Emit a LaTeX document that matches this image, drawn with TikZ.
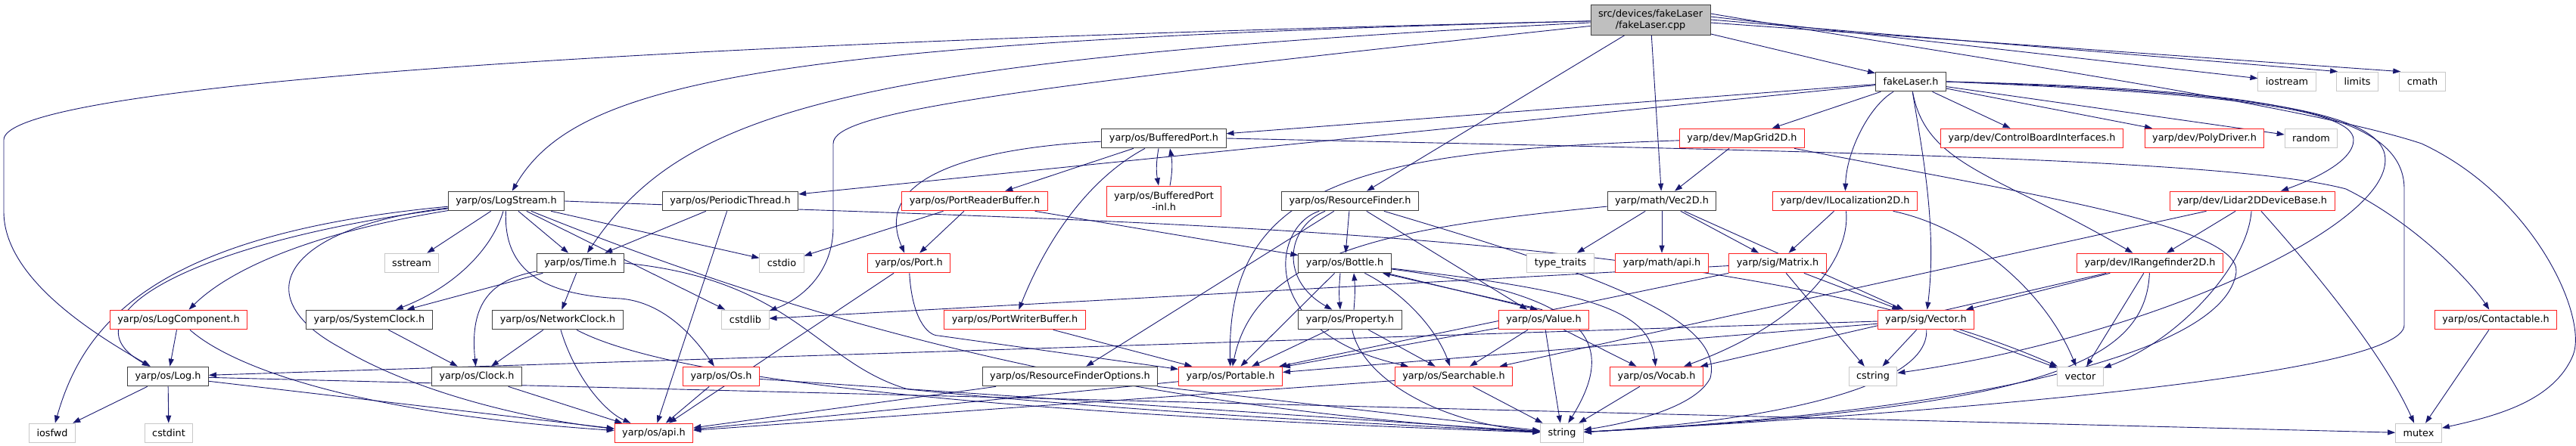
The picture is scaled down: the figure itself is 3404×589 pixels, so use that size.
\documentclass[tikz,border=0pt]{standalone}
\usepackage{fontspec}
\setmainfont{DejaVu Sans}
\usepackage{tikz}
\usetikzlibrary{arrows.meta}
\definecolor{edgeblue}{HTML}{191970}
\definecolor{boxdark}{HTML}{404040}
\definecolor{boxred}{HTML}{FF2020}
\definecolor{boxgray}{HTML}{C8C8C8}
\definecolor{rootfill}{HTML}{BFBFBF}
\pgfdeclarelayer{bg}
\pgfsetlayers{bg,main}
\tikzset{
  hdr/.style={draw,line width=1pt,fill=white,font=\fontsize{12.8}{15}\selectfont,
    inner xsep=10pt,inner ysep=2pt,minimum height=25.7pt},
  inc/.style={hdr,draw=boxdark},
  trunc/.style={hdr,draw=boxred},
  ext/.style={hdr,draw=boxgray},
  root/.style={hdr,draw=boxdark,fill=rootfill,align=center,minimum height=40pt},
  dep/.style={draw=edgeblue,line width=0.9pt,-{Triangle[length=10pt,width=7pt]}},
}

\begin{document}
\begin{tikzpicture}[x=1pt,y=-1pt]
  \useasboundingbox (0,0) rectangle (3404,589);
  % row 0 / 1
  \node[root] (cpp) at (2181,26) {src/devices/fakeLaser\\/fakeLaser.cpp};
  \node[inc] (fl) at (2525,108) {fakeLaser.h};
  \node[ext] (iostream) at (3022,108) {iostream};
  \node[ext] (limits) at (3115,108) {limits};
  \node[ext] (cmath) at (3201,108) {cmath};
  % row 2
  \node[inc] (bport) at (1538,183) {yarp/os/BufferedPort.h};
  \node[trunc] (mapgrid) at (2302,183) {yarp/dev/MapGrid2D.h};
  \node[trunc] (cbi) at (2685,183) {yarp/dev/ControlBoardInterfaces.h};
  \node[trunc] (poly) at (2913,183) {yarp/dev/PolyDriver.h};
  \node[ext] (random) at (3054,183) {random};
  % row 3
  \node[inc] (logstream) at (669,266) {yarp/os/LogStream.h};
  \node[inc] (pthread) at (965,266) {yarp/os/PeriodicThread.h};
  \node[trunc] (prb) at (1288,266) {yarp/os/PortReaderBuffer.h};
  \node[trunc,align=center,minimum height=40pt] (bpinl) at (1538,266) {yarp/os/BufferedPort\\-inl.h};
  \node[inc] (rf) at (1784,266) {yarp/os/ResourceFinder.h};
  \node[inc] (vec2d) at (2196,266) {yarp/math/Vec2D.h};
  \node[trunc] (iloc) at (2438,266) {yarp/dev/ILocalization2D.h};
  \node[trunc] (lidar) at (2976,266) {yarp/dev/Lidar2DDeviceBase.h};
  % row 4
  \node[ext] (sstream) at (544,348) {sstream};
  \node[inc] (time) at (767,348) {yarp/os/Time.h};
  \node[ext] (cstdio) at (1033,348) {cstdio};
  \node[trunc] (port) at (1201,348) {yarp/os/Port.h};
  \node[inc] (bottle) at (1777,348) {yarp/os/Bottle.h};
  \node[ext] (ttraits) at (2062,348) {type\_traits};
  \node[trunc] (mapi) at (2196,348) {yarp/math/api.h};
  \node[trunc] (matrix) at (2349,348) {yarp/sig/Matrix.h};
  \node[trunc] (irange) at (2841,348) {yarp/dev/IRangefinder2D.h};
  % row 5
  \node[trunc] (logcomp) at (236,423) {yarp/os/LogComponent.h};
  \node[inc] (sysclock) at (488,423) {yarp/os/SystemClock.h};
  \node[inc] (netclock) at (737,423) {yarp/os/NetworkClock.h};
  \node[ext] (cstdlib) at (985,423) {cstdlib};
  \node[trunc] (pwb) at (1341,423) {yarp/os/PortWriterBuffer.h};
  \node[inc] (property) at (1784,423) {yarp/os/Property.h};
  \node[trunc] (value) at (2040,423) {yarp/os/Value.h};
  \node[trunc] (vector) at (2545,423) {yarp/sig/Vector.h};
  \node[trunc] (contact) at (3298,423) {yarp/os/Contactable.h};
  % row 6
  \node[inc] (log) at (222,498) {yarp/os/Log.h};
  \node[inc] (clock) at (630,498) {yarp/os/Clock.h};
  \node[trunc] (os) at (953,498) {yarp/os/Os.h};
  \node[inc] (rfo) at (1414,498) {yarp/os/ResourceFinderOptions.h};
  \node[trunc] (portable) at (1626,498) {yarp/os/Portable.h};
  \node[trunc] (searchable) at (1921,498) {yarp/os/Searchable.h};
  \node[trunc] (vocab) at (2189,498) {yarp/os/Vocab.h};
  \node[ext] (cstring) at (2475,498) {cstring};
  \node[ext] (stdvec) at (2749,498) {vector};
  % row 7
  \node[ext] (iosfwd) at (69,573) {iosfwd};
  \node[ext] (cstdint) at (223,573) {cstdint};
  \node[trunc] (api) at (864,573) {yarp/os/api.h};
  \node[ext] (string) at (2064,573) {string};
  \node[ext] (mutex) at (3196,573) {mutex};

  \begin{pgfonlayer}{bg}
  % fakeLaser.cpp
  \draw[dep] (cpp) -- (fl);
  \draw[dep] ([yshift=4pt]cpp.east) -- (iostream);
  \draw[dep] (cpp.east) -- ([xshift=2pt]limits.north west);
  \draw[dep] ([yshift=-4pt]cpp.east) -- ([xshift=2pt]cmath.north west);
  \draw[dep] (cpp) -- (rf);
  \draw[dep] (cpp) -- (vec2d);
  \draw[dep] (cpp) .. controls (700,60) and (5,120) .. (5,185) -- (5,280) .. controls (5,370) and (130,445) .. (log);
  \draw[dep] (cpp) .. controls (1000,55) and (760,110) .. (logstream);
  \draw[dep] (cpp) .. controls (1100,80) and (900,150) .. (time);
  \draw[dep] (cpp) .. controls (1300,120) and (1101,150) .. (1101,190) -- (1101,300) .. controls (1101,360) and (1060,395) .. (cstdlib);
  \draw[dep] ([yshift=8pt]cpp.east) .. controls (2600,75) and (3050,140) .. (3200,190) .. controls (3350,260) and (3420,420) .. (3400,470) .. controls (3375,530) and (3300,550) .. (mutex);
  % fakeLaser.h
  \draw[dep] (fl) -- (bport);
  \draw[dep] (fl) -- (pthread);
  \draw[dep] (fl) -- (mapgrid);
  \draw[dep] (fl) -- (cbi);
  \draw[dep] (fl) -- (poly);
  \draw[dep] (fl) -- (random);
  \draw[dep] (fl) .. controls (2470,140) and (2440,200) .. (iloc);
  \draw[dep] (fl) .. controls (2540,200) and (2560,300) .. (vector);
  \draw[dep] (fl) .. controls (2545,220) and (2640,230) .. (irange);
  \draw[dep] (fl.east) .. controls (2900,122) and (3110,140) .. (3110,185) .. controls (3110,215) and (3050,240) .. (lidar);
  \draw[dep] (fl.east) .. controls (2950,120) and (3130,145) .. (3150,200) .. controls (3180,290) and (2850,445) .. (cstring);
  \draw[dep] (fl.east) .. controls (3000,118) and (3177,150) .. (3177,250) -- (3177,430) .. controls (3177,500) and (2500,550) .. (string);
  % BufferedPort.h
  \draw[dep] (bport) -- (prb);
  \draw[dep] (bport) .. controls (1300,195) and (1150,230) .. (port);
  \draw[dep] (bport) .. controls (1450,230) and (1390,300) .. (pwb);
  \draw[dep] ([xshift=-7pt]bport.south) to[bend right=10] ([xshift=-7pt]bpinl.north);
  \draw[dep] ([xshift=8pt]bpinl.north) to[bend right=10] ([xshift=8pt]bport.south);
  \draw[dep] (bport.east) .. controls (2400,200) and (2950,210) .. (3100,250) .. controls (3200,300) and (3270,380) .. (contact);
  % MapGrid2D.h
  \draw[dep] (mapgrid) -- (vec2d);
  \draw[dep] (mapgrid) .. controls (1800,200) and (1620,240) .. (portable);
  \draw[dep] (mapgrid) .. controls (2700,260) and (2960,300) .. (2955,360) .. controls (2940,470) and (2600,545) .. (string);
  % LogStream.h
  \draw[dep] (logstream) .. controls (250,320) and (80,420) .. (log);
  \draw[dep] (logstream) .. controls (200,310) and (110,430) .. (iosfwd);
  \draw[dep] (logstream) .. controls (400,310) and (300,360) .. (logcomp);
  \draw[dep] (logstream) .. controls (650,330) and (600,380) .. (sysclock);
  \draw[dep] (logstream) .. controls (380,300) and (320,390) .. (450,460) .. controls (550,520) and (700,555) .. (api);
  \draw[dep] (logstream) .. controls (665,360) and (720,390) .. (820,395) .. controls (880,400) and (920,450) .. (os);
  \draw[dep] (logstream) -- (sstream);
  \draw[dep] (logstream) -- (time);
  \draw[dep] (logstream) -- (cstdio);
  \draw[dep] (logstream) -- (cstdlib);
  \draw[dep] (logstream) .. controls (1100,440) and (1500,540) .. (string);
  \draw[dep] (logstream.east) .. controls (1500,295) and (2300,300) .. (stdvec);
  % PeriodicThread.h, PortReaderBuffer.h, Port.h
  \draw[dep] (pthread) -- (time);
  \draw[dep] (pthread) -- (api);
  \draw[dep] (prb) -- (port);
  \draw[dep] (prb) -- (cstdio);
  \draw[dep] (prb) -- (bottle);
  \draw[dep] (port) .. controls (1205,420) and (1225,444) .. (1240,444) -- (portable);
  \draw[dep] (port) -- (api);
  \draw[dep] (pwb) -- (portable);
  % ResourceFinder.h
  \draw[dep] (rf) -- (bottle);
  \draw[dep] (rf) -- (value);
  \draw[dep] (rf) -- (rfo);
  \draw[dep] (rf) .. controls (1700,300) and (1690,370) .. (property);
  \draw[dep] (rf) .. controls (1680,300) and (1660,440) .. (searchable);
  \draw[dep] (rf) .. controls (2100,360) and (2280,420) .. (2260,500) .. controls (2240,540) and (2150,560) .. (string);
  % Vec2D.h, ILocalization2D.h, Matrix.h
  \draw[dep] (vec2d) -- (ttraits);
  \draw[dep] (vec2d) -- (mapi);
  \draw[dep] (vec2d) -- (matrix);
  \draw[dep] (vec2d) -- (vector);
  \draw[dep] (vec2d) .. controls (1850,300) and (1660,330) .. (portable);
  \draw[dep] (iloc) -- (matrix);
  \draw[dep] (iloc) .. controls (2445,330) and (2400,420) .. (vocab);
  \draw[dep] (iloc) .. controls (2600,300) and (2700,380) .. (stdvec);
  \draw[dep] (matrix) -- (vector);
  \draw[dep] (matrix) -- (cstring);
  \draw[dep] (matrix) -- (portable);
  \draw[dep] (matrix) -- (cstdlib);
  % Lidar2DDeviceBase.h, IRangefinder2D.h, Vector.h
  \draw[dep] (lidar) -- (irange);
  \draw[dep] (lidar) -- (searchable);
  \draw[dep] (lidar) .. controls (2970,350) and (2880,450) .. (stdvec);
  \draw[dep] (lidar) .. controls (3060,360) and (3150,470) .. (mutex);
  \draw[dep] (irange) -- (vector);
  \draw[dep] (irange) -- (vocab);
  \draw[dep] (irange) -- (stdvec);
  \draw[dep] (irange) .. controls (2835,480) and (2700,540) .. (string);
  \draw[dep] (vector) -- (cstring);
  \draw[dep] (vector) -- (stdvec);
  \draw[dep] (vector) -- (log);
  \draw[dep] (vector) -- (portable);
  \draw[dep] (vector) .. controls (2550,520) and (2300,560) .. (string);
  \draw[dep] (contact) -- (mutex);
  % Bottle.h, Property.h, Value.h
  \draw[dep] ([xshift=-6pt]bottle.south) to[bend right=5] ([xshift=-13pt]property.north);
  \draw[dep] ([xshift=5pt]property.north) to[bend right=5] ([xshift=12pt]bottle.south);
  \draw[dep] (bottle) -- ([xshift=-8pt]value.north);
  \draw[dep] ([xshift=-2pt]value.north) -- ([xshift=50pt]bottle.south);
  \draw[dep] (bottle) -- (portable);
  \draw[dep] (bottle) .. controls (1860,390) and (1900,440) .. (searchable);
  \draw[dep] (bottle) .. controls (2100,390) and (2140,450) .. (string);
  \draw[dep] (bottle) .. controls (2100,385) and (2180,410) .. (vocab);
  \draw[dep] (property) -- (portable);
  \draw[dep] (property) -- (searchable);
  \draw[dep] (property) .. controls (1800,500) and (1900,560) .. (string);
  \draw[dep] (value) -- (searchable);
  \draw[dep] (value) -- (vocab);
  \draw[dep] (value) -- (string);
  \draw[dep] (value) -- (portable);
  % lower rows
  \draw[dep] (searchable) -- (string);
  \draw[dep] (searchable) -- (api);
  \draw[dep] (vocab) -- (string);
  \draw[dep] (portable) -- (api);
  \draw[dep] (rfo) -- (api);
  \draw[dep] (rfo) -- (string);
  \draw[dep] (os) -- (api);
  \draw[dep] (os) -- (string);
  \draw[dep] (clock) -- (api);
  \draw[dep] (netclock) -- (clock);
  \draw[dep] (netclock) .. controls (760,500) and (800,545) .. (api);
  \draw[dep] (netclock) .. controls (900,510) and (1400,550) .. (string);
  \draw[dep] (sysclock) -- (clock);
  \draw[dep] (time) -- (sysclock);
  \draw[dep] (time) -- (netclock);
  \draw[dep] (time) .. controls (650,370) and (620,400) .. (clock);
  \draw[dep] (time.east) .. controls (1050,370) and (1080,480) .. (1200,515) .. controls (1500,545) and (1800,560) .. (string);
  \draw[dep] (logcomp) -- (log);
  \draw[dep] (logcomp) .. controls (300,480) and (450,545) .. (api);
  \draw[dep] (log) -- (iosfwd);
  \draw[dep] (log) -- (cstdint);
  \draw[dep] (log) -- (api);
  \draw[dep] (log) -- (mutex);
  \end{pgfonlayer}
\end{tikzpicture}
\end{document}
